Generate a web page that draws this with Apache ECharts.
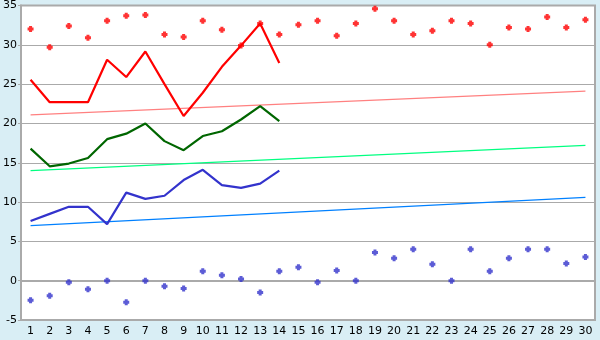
<!DOCTYPE html>
<html><head><meta charset="utf-8">
<script src="https://cdn.jsdelivr.net/npm/echarts@6/dist/echarts.min.js"></script>
<style>html,body{margin:0;padding:0;background:#d9eef5}#c{width:600px;height:340px}</style>
</head><body><div id="c"></div>
<script>
var categories = ['1','2','3','4','5','6','7','8','9','10','11','12','13','14','15','16','17','18','19','20','21','22','23','24','25','26','27','28','29','30'];
var yTicks = {min: -5, max: 35, interval: 5};
var highPoints = [32.0,29.7,32.4,30.9,33.05,33.7,33.8,31.3,31.0,33.05,31.9,29.9,32.7,31.3,32.55,33.05,31.15,32.7,34.6,33.05,31.3,31.8,33.05,32.7,30.0,32.2,32.0,33.55,32.2,33.2];
var lowPoints = [-2.5,-1.9,-0.2,-1.1,0,-2.75,0,-0.7,-1.0,1.2,0.7,0.2,-1.5,1.2,1.7,-0.2,1.3,0,3.6,2.85,4.0,2.1,0,4.0,1.2,2.85,4.0,4.0,2.2,3.0];
var redLine = [25.55,22.7,22.7,22.7,28.1,25.9,29.15,25.0,20.95,23.9,27.2,29.9,32.7,27.7];
var greenLine = [16.8,14.55,14.9,15.6,18.0,18.7,20.0,17.75,16.6,18.4,19.0,20.5,22.2,20.3];
var blueLine = [7.6,8.5,9.4,9.4,7.2,11.2,10.4,10.8,12.8,14.1,12.15,11.8,12.35,14.0];
var redTrend = [21.1,24.1];
var greenTrend = [14.0,17.2];
var blueTrend = [7.0,10.6];

function ends(pair){var a=new Array(categories.length).fill(null);a[0]=pair[0];a[categories.length-1]=pair[1];return a;}
var plus='path://M1,0H3V1H4V3H3V4H1V3H0V1H1Z';
var font='DejaVu Sans';
var chart=echarts.init(document.getElementById('c'),null,{renderer:'canvas'});
function line(data,color,w,z){return {type:'line',data:data,symbol:'none',connectNulls:true,z:z,lineStyle:{color:color,width:w},itemStyle:{color:color},animation:false};}
chart.setOption({
  backgroundColor:'#d9eef5',
  animation:false,
  grid:{left:20,right:5,top:5,bottom:20,show:true,backgroundColor:'#ffffff',borderColor:'#aaaaaa',borderWidth:2},
  xAxis:{type:'category',data:categories,boundaryGap:true,
    axisLine:{lineStyle:{color:'#aaaaaa',width:2}},
    axisTick:{alignWithLabel:true,length:4,lineStyle:{color:'#000'}},
    axisLabel:{color:'#000',fontFamily:font,fontSize:11,margin:6,interval:0},
    splitLine:{show:false}},
  yAxis:{type:'value',min:yTicks.min,max:yTicks.max,interval:yTicks.interval,
    axisLine:{show:true,lineStyle:{color:'#aaaaaa',width:2}},
    axisTick:{show:true,length:3,lineStyle:{color:'#aaaaaa'}},
    axisLabel:{color:'#000',fontFamily:font,fontSize:11,margin:4},
    splitLine:{lineStyle:{color:'#aaaaaa',width:1}}},
  series:[
    line(ends(redTrend),'#ff8080',1.2,2),
    line(ends(greenTrend),'#00ff80',1.2,2),
    line(ends(blueTrend),'#0080ff',1.2,2),
    line(redLine,'#ff0000',2.2,3),
    line(greenLine,'#006600',2.2,3),
    line(blueLine,'#3333cc',2.2,3),
    {type:'scatter',data:highPoints,symbol:plus,symbolSize:6,itemStyle:{color:'#ff0000'},z:4},
    {type:'scatter',data:lowPoints,symbol:plus,symbolSize:6,itemStyle:{color:'#3333cc'},z:4}
  ]
});
</script></body></html>
